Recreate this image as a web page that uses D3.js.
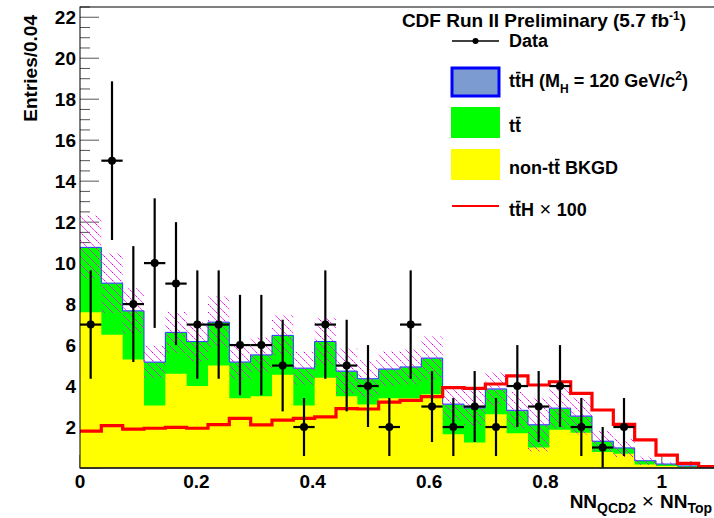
<!DOCTYPE html>
<html>
<head>
<meta charset="utf-8">
<script src="https://cdn.jsdelivr.net/npm/d3@7"></script>
<style>
  body { margin: 0; background: #fff; }
  text { font-family: "Liberation Sans", Arial, sans-serif; font-weight: bold; fill: #000; }
</style>
</head>
<body>
<script>
// histogram binning (30 bins over 0 - 1.1)
let nBins = 30
let xMin = 0, xMax = 1.1

// stacked expectation per bin
let nonTT = [7.6, 6.5, 5.3, 3.05, 4.6, 4.0, 5.0, 3.4, 3.5, 4.55, 3.05, 4.4, 3.5, 3.1, 3.4,
             3.4, 3.6, 1.65, 1.25, 2.62, 1.7, 1.0, 1.87, 1.72, 0.78, 0.7, 0.17, 0.1, 0.05, 0.03]
let ttbar = [3.15, 2.5, 2.35, 2.1, 2.0, 2.15, 2.1, 1.75, 2.0, 1.9, 1.8, 1.75, 1.2, 1.23, 1.4,
             1.5, 1.73, 1.43, 1.65, 1.2, 1.07, 1.07, 1.01, 0.78, 0.5, 0.26, 0.17, 0.09, 0.05, 0.03]
// ttH signal scaled by 100 (red line)
let tthX100 = [1.80, 2.07, 1.90, 1.94, 1.98, 1.94, 2.12, 2.42, 2.10, 2.34, 2.42, 2.50, 2.90, 2.88, 3.22,
               3.30, 3.48, 3.92, 3.89, 4.10, 4.50, 4.05, 4.21, 3.64, 2.83, 2.13, 1.37, 0.63, 0.23, 0.07]
// ttH signal, unscaled (thin blue layer on top of the stack)
let tth = [0.018, 0.021, 0.019, 0.019, 0.020, 0.019, 0.021, 0.024, 0.021, 0.023, 0.024, 0.025, 0.029, 0.029, 0.032,
           0.033, 0.035, 0.039, 0.039, 0.041, 0.045, 0.041, 0.042, 0.036, 0.028, 0.021, 0.014, 0.006, 0.002, 0.001]
// half width of the hatched uncertainty band
let bkgErr = [1.55, 1.45, 1.1, 0.8, 1.0, 0.95, 1.25, 0.85, 0.85, 1.0, 0.8, 1.15, 1.1, 0.9, 0.85,
              0.85, 1.05, 0.8, 0.85, 0.8, 0.9, 1.3, 1.0, 0.9, 0.5, 0.45, 0.2, 0.1, 0.05, 0.03]
// observed events
let dataCounts = [7, 15, 8, 10, 9, 7, 7, 6, 6, 5, 2, 7, 5, 4, 2, 7, 3, 2, 3, 2, 4, 3, 4, 2, 1, 2, 0, 0, 0, 0]

// axis ticks
let yMajor = [2, 4, 6, 8, 10, 12, 14, 16, 18, 20, 22]
let xMajor = [0, 0.2, 0.4, 0.6, 0.8, 1]
let xLabels = ["0", "0.2", "0.4", "0.6", "0.8", "1"]

let svgWidth = 714
let svgHeight = 518
let frame = { left: 80, right: 720, top: 7, bottom: 468 }

let xScale = d3.scaleLinear().domain([xMin, xMax]).range([frame.left, frame.right])
let yScale = d3.scaleLinear().domain([0, 22.5]).range([frame.bottom, frame.top])

let binW = (xMax - xMin) / nBins
let edges = d3.range(nBins + 1).map(i => xMin + i * binW)

let greenTop = nonTT.map((v, i) => v + ttbar[i])
let totalTop = greenTop.map((v, i) => v + tth[i])

let svg = d3.select("body").append("svg")
    .attr("width", svgWidth)
    .attr("height", svgHeight)

let defs = svg.append("defs")
defs.append("clipPath").attr("id", "clip")
    .append("rect")
    .attr("x", frame.left).attr("y", frame.top)
    .attr("width", frame.right - frame.left).attr("height", frame.bottom - frame.top)

let pat = defs.append("pattern")
    .attr("id", "hatch")
    .attr("patternUnits", "userSpaceOnUse")
    .attr("width", 8).attr("height", 8)
pat.append("path")
    .attr("d", "M0,0 L8,8 M-1,7 L1,9 M7,-1 L9,1")
    .attr("stroke", "#ff00ff")
    .attr("stroke-width", 1)
    .attr("stroke-dasharray", "2,1")

// ticks (drawn under the histograms, like the original)
let ticks = svg.append("g").attr("stroke", "#555").attr("stroke-width", 1)
d3.range(0, 22.5 + 0.001, 0.5).forEach(function (v) {
    let major = Math.abs(v / 2 - Math.round(v / 2)) < 1e-6
    ticks.append("line")
        .attr("x1", frame.left).attr("x2", frame.left + (major ? 19 : 10))
        .attr("y1", yScale(v)).attr("y2", yScale(v))
})
d3.range(0, 1.1 + 0.001, 0.05).forEach(function (v) {
    let major = Math.abs(v / 0.2 - Math.round(v / 0.2)) < 1e-6
    ticks.append("line")
        .attr("x1", xScale(v)).attr("x2", xScale(v))
        .attr("y1", frame.bottom).attr("y2", frame.bottom - (major ? 13 : 7))
})

let plot = svg.append("g").attr("clip-path", "url(#clip)")

function stepArea(vals) {
    return d3.area()
        .x((d, i) => xScale(d))
        .y0(yScale(0))
        .y1((d, i) => yScale(vals[Math.min(i, nBins - 1)]))
        .curve(d3.curveStepAfter)(edges)
}
function stepLine(vals) {
    return d3.line()
        .x((d, i) => xScale(d))
        .y((d, i) => yScale(vals[Math.min(i, nBins - 1)]))
        .curve(d3.curveStepAfter)(edges)
}

// stack: total (ttH on top), then tt, then non-tt
plot.append("path").attr("d", stepArea(totalTop)).attr("fill", "#7b9bd1")
plot.append("path").attr("d", stepArea(greenTop)).attr("fill", "#00ff00")
plot.append("path").attr("d", stepArea(nonTT)).attr("fill", "#ffff00")
plot.append("path").attr("d", stepLine(totalTop))
    .attr("fill", "none").attr("stroke", "#1f3fff").attr("stroke-width", 1)

// hatched uncertainty band
plot.selectAll("rect.band")
    .data(totalTop)
    .enter().append("rect")
    .attr("class", "band")
    .attr("x", (d, i) => xScale(edges[i]))
    .attr("width", (d, i) => xScale(edges[i + 1]) - xScale(edges[i]))
    .attr("y", (d, i) => yScale(d + bkgErr[i]))
    .attr("height", (d, i) => yScale(Math.max(0, d - bkgErr[i])) - yScale(d + bkgErr[i]))
    .attr("fill", "url(#hatch)")

// ttH x 100
plot.append("path").attr("d", stepLine(tthX100))
    .attr("fill", "none").attr("stroke", "#ff0000").attr("stroke-width", 3.2)

// data points
let pts = dataCounts.map((n, i) => ({ n: n, i: i })).filter(d => d.n > 0)
let dg = plot.append("g").attr("stroke", "#000").attr("stroke-width", 2.2)
pts.forEach(function (d) {
    let cx = xScale(edges[d.i] + binW / 2)
    let e = Math.sqrt(d.n)
    dg.append("line")
        .attr("x1", cx).attr("x2", cx)
        .attr("y1", yScale(d.n + e)).attr("y2", yScale(Math.max(0, d.n - e)))
    dg.append("line")
        .attr("x1", xScale(edges[d.i])).attr("x2", xScale(edges[d.i + 1]))
        .attr("y1", yScale(d.n)).attr("y2", yScale(d.n))
    dg.append("circle")
        .attr("cx", cx).attr("cy", yScale(d.n)).attr("r", 4)
        .attr("fill", "#000").attr("stroke", "none")
})

// frame
svg.append("rect")
    .attr("x", frame.left).attr("y", frame.top)
    .attr("width", frame.right - frame.left).attr("height", frame.bottom - frame.top)
    .attr("fill", "none").attr("stroke", "#000").attr("stroke-width", 1)
svg.append("line")
    .attr("x1", frame.left).attr("x2", frame.right)
    .attr("y1", frame.bottom).attr("y2", frame.bottom)
    .attr("stroke", "#222").attr("stroke-width", 1.5)

// tick labels
svg.selectAll("text.ylab")
    .data(yMajor)
    .enter().append("text")
    .attr("class", "ylab")
    .attr("x", 76)
    .attr("y", d => yScale(d) + 7)
    .attr("text-anchor", "end")
    .style("font-size", "19px")
    .text(d => d)

svg.selectAll("text.xlab")
    .data(xMajor)
    .enter().append("text")
    .attr("class", "xlab")
    .attr("x", d => xScale(d))
    .attr("y", 488)
    .attr("text-anchor", "middle")
    .style("font-size", "19px")
    .text((d, i) => xLabels[i])

// axis titles
svg.append("text")
    .attr("transform", "translate(37,15) rotate(-90)")
    .attr("text-anchor", "end")
    .style("font-size", "19px")
    .text("Entries/0.04")

let xt = svg.append("text")
    .attr("x", 712).attr("y", 508)
    .attr("text-anchor", "end")
    .style("font-size", "19px")
xt.append("tspan").text("NN")
xt.append("tspan").attr("dy", 5).style("font-size", "14px").text("QCD2")
xt.append("tspan").attr("dy", -5).style("font-weight", "normal").style("font-size", "21px").text(" \u00d7 ")
xt.append("tspan").text("NN")
xt.append("tspan").attr("dy", 5).style("font-size", "14px").text("Top")

// overbar above one character of a text element
function overbar(textSel, idx, fs) {
    let node = textSel.node()
    let p0 = node.getStartPositionOfChar(idx)
    let p1 = node.getEndPositionOfChar(idx)
    svg.append("line")
        .attr("x1", p0.x + 1).attr("x2", p1.x - 0.5)
        .attr("y1", p0.y - fs * 0.8).attr("y2", p0.y - fs * 0.8)
        .attr("stroke", "#000").attr("stroke-width", 1.6)
}

// legend
let lx = 451, lw = 49, tx = 509, fs = 18

let head = svg.append("text")
    .attr("x", 686).attr("y", 27)
    .attr("text-anchor", "end")
    .style("font-size", "19px")
head.append("tspan").text("CDF Run II Preliminary (5.7 fb")
head.append("tspan").attr("dy", -7).style("font-size", "12px").text("-1")
head.append("tspan").attr("dy", 7).text(")")

svg.append("line")
    .attr("x1", lx + 1).attr("x2", lx + lw - 1)
    .attr("y1", 41).attr("y2", 41)
    .attr("stroke", "#000").attr("stroke-width", 1.5)
svg.append("circle").attr("cx", lx + lw / 2).attr("cy", 41).attr("r", 3)
svg.append("text").attr("x", tx).attr("y", 47).style("font-size", fs + "px").text("Data")

svg.append("rect")
    .attr("x", lx + 1).attr("y", 68).attr("width", lw - 2).attr("height", 28)
    .attr("fill", "#7b9bd1").attr("stroke", "#0000ff").attr("stroke-width", 3)
let l1 = svg.append("text").attr("x", tx).attr("y", 87).style("font-size", fs + "px")
l1.append("tspan").text("ttH (M")
l1.append("tspan").attr("dy", 6).style("font-size", "12px").text("H")
l1.append("tspan").attr("dy", -6).text(" = 120 GeV/c")
l1.append("tspan").attr("dy", -7).style("font-size", "12px").text("2")
l1.append("tspan").attr("dy", 7).text(")")
overbar(l1, 1, fs)

svg.append("rect")
    .attr("x", lx).attr("y", 107).attr("width", lw).attr("height", 31)
    .attr("fill", "#00ff00")
let l2 = svg.append("text").attr("x", tx).attr("y", 132).style("font-size", fs + "px").text("tt")
overbar(l2, 1, fs)

svg.append("rect")
    .attr("x", lx).attr("y", 149).attr("width", lw).attr("height", 31)
    .attr("fill", "#ffff00")
let l3 = svg.append("text").attr("x", tx).attr("y", 174).style("font-size", fs + "px").text("non-tt BKGD")
overbar(l3, 5, fs)

svg.append("line")
    .attr("x1", lx + 1).attr("x2", lx + lw - 1)
    .attr("y1", 206).attr("y2", 206)
    .attr("stroke", "#ff0000").attr("stroke-width", 2.2)
let l4 = svg.append("text").attr("x", tx).attr("y", 216).style("font-size", fs + "px")
l4.append("tspan").text("ttH")
l4.append("tspan").style("font-weight", "normal").style("font-size", "20px").text(" \u00d7 ")
l4.append("tspan").text("100")
overbar(l4, 1, fs)
</script>
</body>
</html>
